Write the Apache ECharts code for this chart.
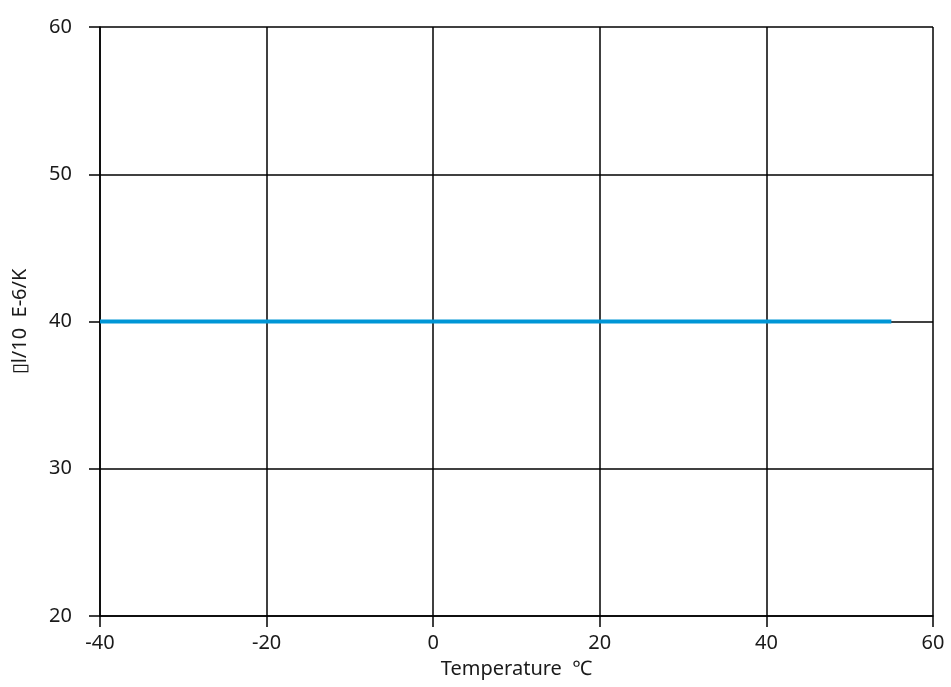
<!DOCTYPE html>
<html><head><meta charset="utf-8">
<script src="https://cdn.jsdelivr.net/npm/echarts@6/dist/echarts.min.js"></script>
<style>html,body{margin:0;padding:0;background:#fff}#c{width:951px;height:687px}</style>
</head><body><div id="c"></div>
<script>
var temperatures = [-40, -30, -20, -10, 0, 10, 20, 30, 40, 50, 55];
var expansion = [40, 40, 40, 40, 40, 40, 40, 40, 40, 40, 40];
var xName = 'Temperature  \u2103';
var yName = '\u25AFl/10  E-6/K';
var FONT = 'Noto Sans';
var chart = echarts.init(document.getElementById('c'));
var axisCommon = {
  axisLine: {show: true, onZero: false, lineStyle: {color: '#000', width: 1.5}},
  axisTick: {show: true, length: 11, lineStyle: {color: '#000', width: 1.5}},
  splitLine: {show: true, lineStyle: {color: '#000', width: 1.5}},
  axisLabel: {color: '#1a1a1a', fontSize: 20, fontFamily: FONT},
  nameTextStyle: {color: '#1a1a1a', fontSize: 20, fontFamily: FONT}
};
chart.setOption({
  animation: false,
  grid: {left: 100, right: 18, top: 27, bottom: 71, containLabel: false},
  xAxis: Object.assign({type: 'value', min: -40, max: 60, interval: 20,
    name: xName, nameLocation: 'middle', nameGap: 43}, axisCommon,
    {axisLabel: Object.assign({}, axisCommon.axisLabel, {margin: 17})}),
  yAxis: Object.assign({type: 'value', min: 20, max: 60, interval: 10,
    name: yName, nameLocation: 'middle', nameGap: 70}, axisCommon,
    {axisLabel: Object.assign({}, axisCommon.axisLabel, {margin: 28})}),
  series: [{type: 'line', data: temperatures.map(function(t, i){return [t, expansion[i]];}),
    showSymbol: false, lineStyle: {color: '#0096d6', width: 4}, itemStyle: {color: '#0096d6'}}]
});
</script></body></html>
